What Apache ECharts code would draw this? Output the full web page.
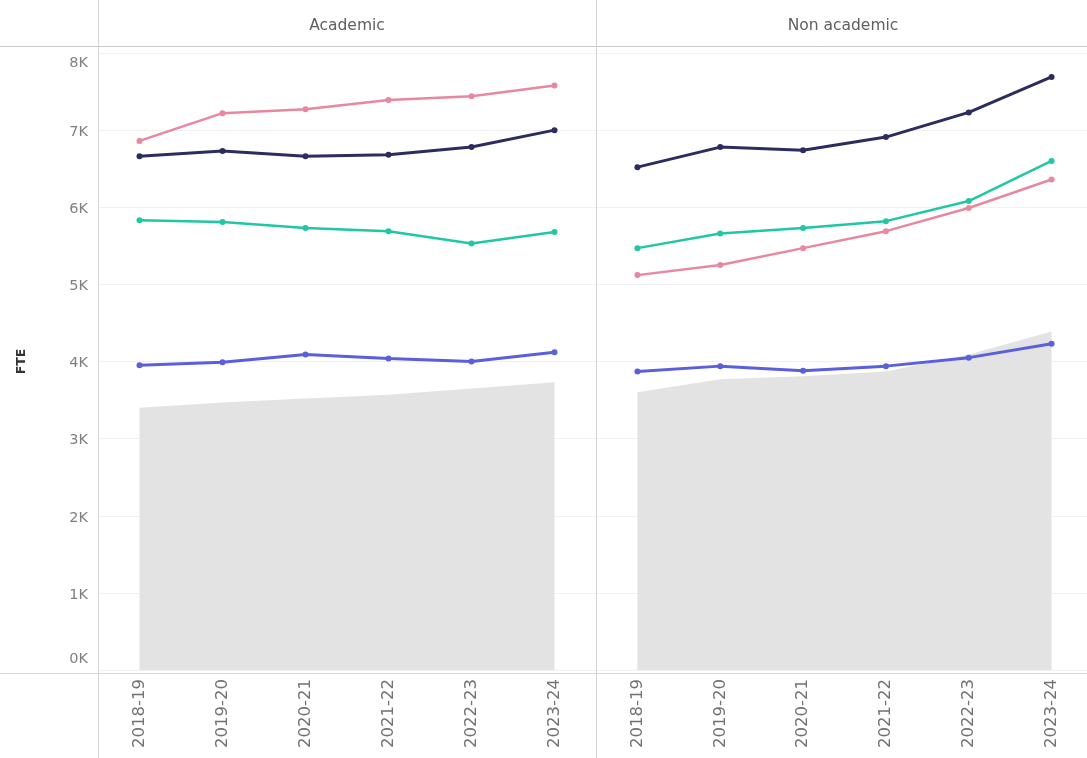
<!DOCTYPE html>
<html>
<head>
<meta charset="utf-8">
<script src="https://cdn.jsdelivr.net/npm/echarts@6/dist/echarts.min.js"></script>
<style>
html,body{margin:0;padding:0;background:#fff;overflow:hidden;}
#chart{width:1094px;height:758px;}
</style>
</head>
<body>
<div id="chart"></div>
<script>
const categories = ['2018-19','2019-20','2020-21','2021-22','2022-23','2023-24'];
const panels = ['Academic','Non academic'];
const yTickValues = [0,1000,2000,3000,4000,5000,6000,7000,8000];

// Academic
const acadPink = [6860, 7220, 7270, 7390, 7440, 7580];
const acadNavy = [6660, 6730, 6660, 6680, 6780, 7000];
const acadTeal = [5830, 5810, 5730, 5690, 5530, 5680];
const acadBlue = [3950, 3990, 4090, 4040, 4000, 4120];
const acadArea = [3400, 3470, 3520, 3570, 3650, 3730];

// Non academic
const nonPink = [5120, 5250, 5470, 5690, 5990, 6360];
const nonNavy = [6520, 6780, 6740, 6910, 7230, 7690];
const nonTeal = [5470, 5660, 5730, 5820, 6080, 6600];
const nonBlue = [3870, 3940, 3880, 3940, 4050, 4230];
const nonArea = [3600, 3770, 3810, 3870, 4090, 4390];

const C = {pink:'#e8879f', navy:'#2a2d5e', teal:'#1fc7a4', blue:'#5a5fdc', area:'#e3e3e3'};
const FONT = '"DejaVu Sans", "Open Sans", sans-serif';

const chart = echarts.init(document.getElementById('chart'));

function lineSeries(data, color, idx, width){
  return {type:'line', data:data, xAxisIndex:idx, yAxisIndex:idx,
    symbol:'circle', symbolSize:6, itemStyle:{color:color},
    lineStyle:{color:color, width:width}, z:3, silent:true};
}
function areaSeries(data, idx){
  return {type:'line', data:data, xAxisIndex:idx, yAxisIndex:idx,
    symbol:'none', lineStyle:{width:0}, areaStyle:{color:C.area, opacity:1}, z:1, silent:true};
}

const grids = [
  {left:98, top:53, width:498, height:617},
  {left:596, top:53, width:497, height:617}
];

function xAxis(i){
  return {type:'category', gridIndex:i, data:categories, boundaryGap:true,
    axisLine:{show:false}, axisTick:{show:false},
    axisLabel:{rotate:90, margin:9, color:'#727272', fontSize:16.5, fontFamily:FONT, interval:0}};
}
const lblStyle = {color:'#808080', fontSize:14.5, fontFamily:FONT};
function yAxis(i){
  return {type:'value', gridIndex:i, min:0, max:8000, interval:1000,
    axisLine:{show:false}, axisTick:{show:false},
    splitLine:{show:true, lineStyle:{color:'#f1f1f1', width:1}},
    name: i===0 ? 'FTE' : '', nameLocation:'middle', nameRotate:90, nameGap:70,
    nameTextStyle:{color:'#333', fontSize:12.5, fontWeight:'bold', fontFamily:FONT},
    axisLabel:{show:i===0, margin:10, color:'#808080', fontSize:14.5, fontFamily:FONT,
      formatter:function(v){
        const s = (v/1000)+'K';
        if(v===8000) return '{t|'+s+'}';
        if(v===0) return '{b|'+s+'}';
        return '{m|'+s+'}';
      },
      rich:{
        t:Object.assign({padding:[20,0,0,0]}, lblStyle),
        b:Object.assign({padding:[0,0,22,0]}, lblStyle),
        m:Object.assign({padding:[4,0,0,0]}, lblStyle)
      }
    }};
}

const lineColor = '#d4d4d4';
chart.setOption({
  animation:false,
  backgroundColor:'#fff',
  title:[
    {text:panels[0], left:342, top:13, textAlign:'center',
      textStyle:{color:'#606060', fontSize:15.5, fontWeight:'normal', fontFamily:FONT}},
    {text:panels[1], left:838, top:13, textAlign:'center',
      textStyle:{color:'#606060', fontSize:15.5, fontWeight:'normal', fontFamily:FONT}}
  ],
  grid:grids,
  xAxis:[xAxis(0), xAxis(1)],
  yAxis:[yAxis(0), yAxis(1)],
  series:[
    areaSeries(acadArea,0),
    lineSeries(acadPink, C.pink, 0, 2.5),
    lineSeries(acadNavy, C.navy, 0, 3),
    lineSeries(acadTeal, C.teal, 0, 2.5),
    lineSeries(acadBlue, C.blue, 0, 3),
    areaSeries(nonArea,1),
    lineSeries(nonPink, C.pink, 1, 2.5),
    lineSeries(nonNavy, C.navy, 1, 3),
    lineSeries(nonTeal, C.teal, 1, 2.5),
    lineSeries(nonBlue, C.blue, 1, 3)
  ],
  graphic:[
    {type:'line', shape:{x1:0,y1:46.5,x2:1094,y2:46.5}, style:{stroke:'#c8c8c8', lineWidth:1}, z:10, silent:true},
    {type:'line', shape:{x1:0,y1:673.5,x2:1094,y2:673.5}, style:{stroke:lineColor, lineWidth:1}, z:10, silent:true},
    {type:'line', shape:{x1:98.5,y1:0,x2:98.5,y2:758}, style:{stroke:lineColor, lineWidth:1}, z:10, silent:true},
    {type:'line', shape:{x1:596.5,y1:0,x2:596.5,y2:758}, style:{stroke:lineColor, lineWidth:1}, z:10, silent:true}
  ]
});
</script>
</body>
</html>
